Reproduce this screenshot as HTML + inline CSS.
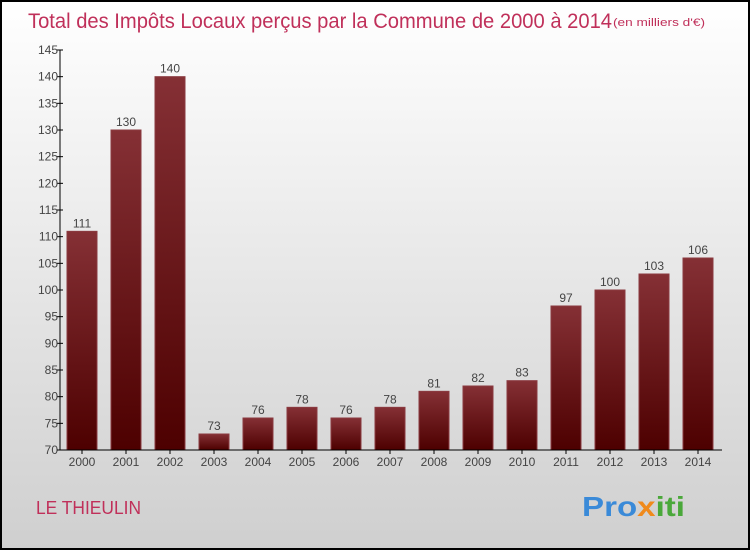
<!DOCTYPE html>
<html><head><meta charset="utf-8"><style>
body{margin:0;width:750px;height:550px;overflow:hidden;font-family:"Liberation Sans",sans-serif}
</style></head><body>
<svg id="c" width="750" height="550" xmlns="http://www.w3.org/2000/svg">
<defs>
<linearGradient id="bg" x1="0" y1="0" x2="0" y2="1"><stop offset="0" stop-color="#ffffff"/><stop offset="1" stop-color="#cfcfcf"/></linearGradient>
<linearGradient id="bar" x1="0" y1="0" x2="0" y2="1"><stop offset="0" stop-color="#853035"/><stop offset="1" stop-color="#4d0000"/></linearGradient>
</defs>
<rect x="1" y="1" width="748" height="548" fill="url(#bg)" stroke="#000" stroke-width="2"/>
<text x="28" y="28" font-size="21" fill="#c0305a" textLength="584" lengthAdjust="spacingAndGlyphs">Total des Impôts Locaux perçus par la Commune de 2000 à 2014</text>
<text x="613" y="26" font-size="11" fill="#c0305a" textLength="92" lengthAdjust="spacingAndGlyphs">(en milliers d'€)</text>
<text x="36" y="514" font-size="18" fill="#c0305a" textLength="105" lengthAdjust="spacingAndGlyphs">LE THIEULIN</text>
<text x="582" y="516" font-size="28" font-weight="bold" textLength="103" lengthAdjust="spacingAndGlyphs"><tspan fill="#3a8ad8">Pro</tspan><tspan fill="#f08a1c">x</tspan><tspan fill="#4aa83a">iti</tspan></text>
<g id="plot"></g>
</svg>
<script>
const categories=["2000","2001","2002","2003","2004","2005","2006","2007","2008","2009","2010","2011","2012","2013","2014"];
const values=[111,130,140,73,76,78,76,78,81,82,83,97,100,103,106];
const yTicks=[70,75,80,85,90,95,100,105,110,115,120,125,130,135,140,145];
const NS="http://www.w3.org/2000/svg";
const g=document.getElementById('plot');
const y=v=>450-(v-70)*400/75;
const x=i=>82+i*44;
function mk(t,a){const e=document.createElementNS(NS,t);for(const k in a)e.setAttribute(k,a[k]);g.appendChild(e);return e;}
values.forEach((v,i)=>{
 const r=mk('rect',{x:x(i)-15,y:y(v),width:30,height:450-y(v),fill:'url(#bar)',stroke:'#8a3a40','stroke-width':1});
 
 
 const t=mk('text',{x:x(i),y:y(v)-4,'text-anchor':'middle','font-size':12,fill:'#444'});
 t.textContent=v;
 
 
 const c=mk('text',{x:x(i),y:466,'text-anchor':'middle','font-size':12,fill:'#444'});
 c.textContent=categories[i];
 
 
 mk('line',{x1:x(i),x2:x(i),y1:450,y2:454,stroke:'#000'});
});
yTicks.forEach(v=>{
 const l=mk('line',{x1:57,x2:63,y1:y(v),y2:y(v),stroke:'#000'});
 
 
 const t=mk('text',{x:58,y:y(v)+4,'text-anchor':'end','font-size':12,fill:'#444'});
 t.textContent=v;
 
 
});
const ya=mk('line',{x1:60,x2:60,y1:50,y2:450,stroke:'#000'});


const xa=mk('line',{x1:57,x2:722,y1:450,y2:450,stroke:'#000'});


</script>
</body></html>
